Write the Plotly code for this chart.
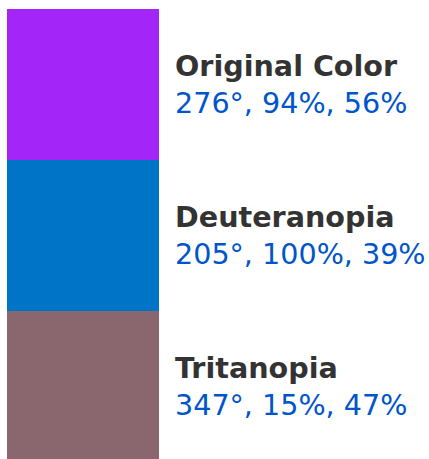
import plotly.graph_objects as go

names = ["Original Color", "Deuteranopia", "Tritanopia"]
hues = [276, 205, 347]
sats = [94, 100, 15]
lights = [56, 39, 47]

fig = go.Figure()
n = len(names)
for i, (nm, h, s, l) in enumerate(zip(names, hues, sats, lights)):
    col = f"hsl({h},{s}%,{l}%)"
    fig.add_trace(go.Bar(
        x=[83], y=[1], base=[n - 1 - i], width=[152],
        marker=dict(color=col, line=dict(width=0)),
        hoverinfo="skip", showlegend=False,
    ))
    fig.add_annotation(
        x=173, y=n - 1 - i + 0.5, xref="x", yref="y",
        xanchor="left", yanchor="middle", align="left", showarrow=False,
        text=(f"<b><span style='color:#333333'>{nm}</span></b><br>"
              f"<span style='color:#0055cc'>{h}°, {s}%, {l}%</span>"),
        font=dict(family="DejaVu Sans", size=28.6),
    )

fig.update_layout(
    width=429, height=459,
    margin=dict(l=0, r=0, t=0, b=0),
    paper_bgcolor="white", plot_bgcolor="white",
    barmode="overlay", bargap=0,
    xaxis=dict(range=[0, 429], visible=False, fixedrange=True),
    yaxis=dict(range=[0.02, 3.06], visible=False, fixedrange=True),
)
fig.write_html("out.html", config={"displayModeBar": False},
               post_script="document.body.style.margin='0';document.body.style.overflow='hidden';")
